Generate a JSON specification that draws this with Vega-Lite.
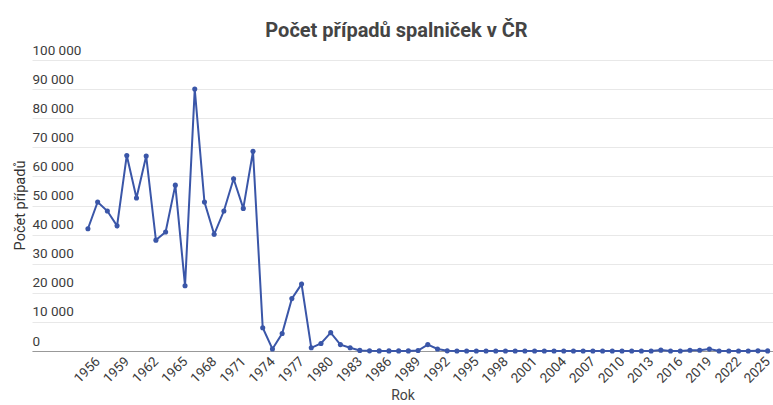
{
  "$schema": "https://vega.github.io/schema/vega-lite/v6.json",
  "width": 741,
  "height": 291,
  "autosize": {"type": "none"},
  "padding": {"left": 32, "top": 60, "right": 0, "bottom": 54},
  "background": "white",
  "title": {
    "text": "Počet případů spalniček v ČR",
    "font": "Roboto",
    "fontSize": 20,
    "fontWeight": "bold",
    "color": "#444444",
    "anchor": "middle",
    "dx": -6,
    "offset": 2
  },
  "data": {
    "values": [
      {"rok": 1955, "pocet": 42000}, {"rok": 1956, "pocet": 51200}, {"rok": 1957, "pocet": 48100},
      {"rok": 1958, "pocet": 43000}, {"rok": 1959, "pocet": 67200}, {"rok": 1960, "pocet": 52600},
      {"rok": 1961, "pocet": 67000}, {"rok": 1962, "pocet": 38100}, {"rok": 1963, "pocet": 40900},
      {"rok": 1964, "pocet": 57000}, {"rok": 1965, "pocet": 22400}, {"rok": 1966, "pocet": 90000},
      {"rok": 1967, "pocet": 51200}, {"rok": 1968, "pocet": 40100}, {"rok": 1969, "pocet": 48100},
      {"rok": 1970, "pocet": 59200}, {"rok": 1971, "pocet": 49000}, {"rok": 1972, "pocet": 68600},
      {"rok": 1973, "pocet": 8000}, {"rok": 1974, "pocet": 700}, {"rok": 1975, "pocet": 6000},
      {"rok": 1976, "pocet": 18000}, {"rok": 1977, "pocet": 23000}, {"rok": 1978, "pocet": 1100},
      {"rok": 1979, "pocet": 2600}, {"rok": 1980, "pocet": 6300}, {"rok": 1981, "pocet": 2200},
      {"rok": 1982, "pocet": 1100}, {"rok": 1983, "pocet": 200}, {"rok": 1984, "pocet": 60},
      {"rok": 1985, "pocet": 40}, {"rok": 1986, "pocet": 30}, {"rok": 1987, "pocet": 40},
      {"rok": 1988, "pocet": 30}, {"rok": 1989, "pocet": 150}, {"rok": 1990, "pocet": 2200},
      {"rok": 1991, "pocet": 700}, {"rok": 1992, "pocet": 50}, {"rok": 1993, "pocet": 20},
      {"rok": 1994, "pocet": 10}, {"rok": 1995, "pocet": 10}, {"rok": 1996, "pocet": 5},
      {"rok": 1997, "pocet": 5}, {"rok": 1998, "pocet": 3}, {"rok": 1999, "pocet": 3},
      {"rok": 2000, "pocet": 2}, {"rok": 2001, "pocet": 2}, {"rok": 2002, "pocet": 2},
      {"rok": 2003, "pocet": 1}, {"rok": 2004, "pocet": 1}, {"rok": 2005, "pocet": 1},
      {"rok": 2006, "pocet": 1}, {"rok": 2007, "pocet": 2}, {"rok": 2008, "pocet": 2},
      {"rok": 2009, "pocet": 1}, {"rok": 2010, "pocet": 1}, {"rok": 2011, "pocet": 20},
      {"rok": 2012, "pocet": 10}, {"rok": 2013, "pocet": 20}, {"rok": 2014, "pocet": 300},
      {"rok": 2015, "pocet": 10}, {"rok": 2016, "pocet": 10}, {"rok": 2017, "pocet": 250},
      {"rok": 2018, "pocet": 280}, {"rok": 2019, "pocet": 650}, {"rok": 2020, "pocet": 20},
      {"rok": 2021, "pocet": 1}, {"rok": 2022, "pocet": 1}, {"rok": 2023, "pocet": 10},
      {"rok": 2024, "pocet": 60}, {"rok": 2025, "pocet": 40}
    ]
  },
  "mark": {
    "type": "line",
    "color": "#3a56a8",
    "strokeWidth": 2,
    "point": {"filled": true, "size": 26, "color": "#3a56a8", "opacity": 1}
  },
  "encoding": {
    "x": {
      "field": "rok",
      "type": "quantitative",
      "scale": {"domain": [1949.24, 2025.55], "nice": false, "zero": false},
      "axis": {
        "title": "Rok",
        "values": [1956, 1959, 1962, 1965, 1968, 1971, 1974, 1977, 1980, 1983, 1986, 1989, 1992, 1995, 1998, 2001, 2004, 2007, 2010, 2013, 2016, 2019, 2022, 2025],
        "format": "d",
        "labelAngle": -45,
        "labelAlign": "right",
        "labelBaseline": "middle",
        "labelPadding": 8,
        "ticks": false,
        "grid": false,
        "domain": true,
        "domainColor": "#999999",
        "domainWidth": 1,
        "labelFont": "Roboto",
        "labelFontSize": 13.5,
        "labelColor": "#3c3c3c",
        "labelOverlap": false,
        "labelFlush": false,
        "titleFont": "Roboto",
        "titleFontSize": 14,
        "titleFontWeight": "normal",
        "titleColor": "#444444",
        "titlePadding": 3
      }
    },
    "y": {
      "field": "pocet",
      "type": "quantitative",
      "scale": {"domain": [0, 100000], "nice": false},
      "axis": {
        "title": "Počet případů",
        "values": [0, 10000, 20000, 30000, 40000, 50000, 60000, 70000, 80000, 90000, 100000],
        "format": ",d",
        "ticks": false,
        "domain": false,
        "grid": true,
        "gridColor": "#e8e8e8",
        "gridWidth": 1,
        "labelAlign": "left",
        "labelBaseline": "bottom",
        "labelPadding": 0,
        "labelOffset": -3,
        "labelFont": "Roboto",
        "labelFontSize": 13.5,
        "labelColor": "#3c3c3c",
        "labelOverlap": false,
        "labelFlush": false,
        "titleFont": "Roboto",
        "titleFontSize": 14.5,
        "titleFontWeight": "normal",
        "titleColor": "#333333",
        "titleAngle": -90,
        "titleX": -12,
        "titleY": 145,
        "titleAlign": "center",
        "titleBaseline": "middle"
      }
    }
  },
  "config": {
    "locale": {
      "number": {"decimal": ",", "thousands": " ", "grouping": [3], "currency": ["", " Kč"]}
    },
    "view": {"stroke": null}
  }
}
